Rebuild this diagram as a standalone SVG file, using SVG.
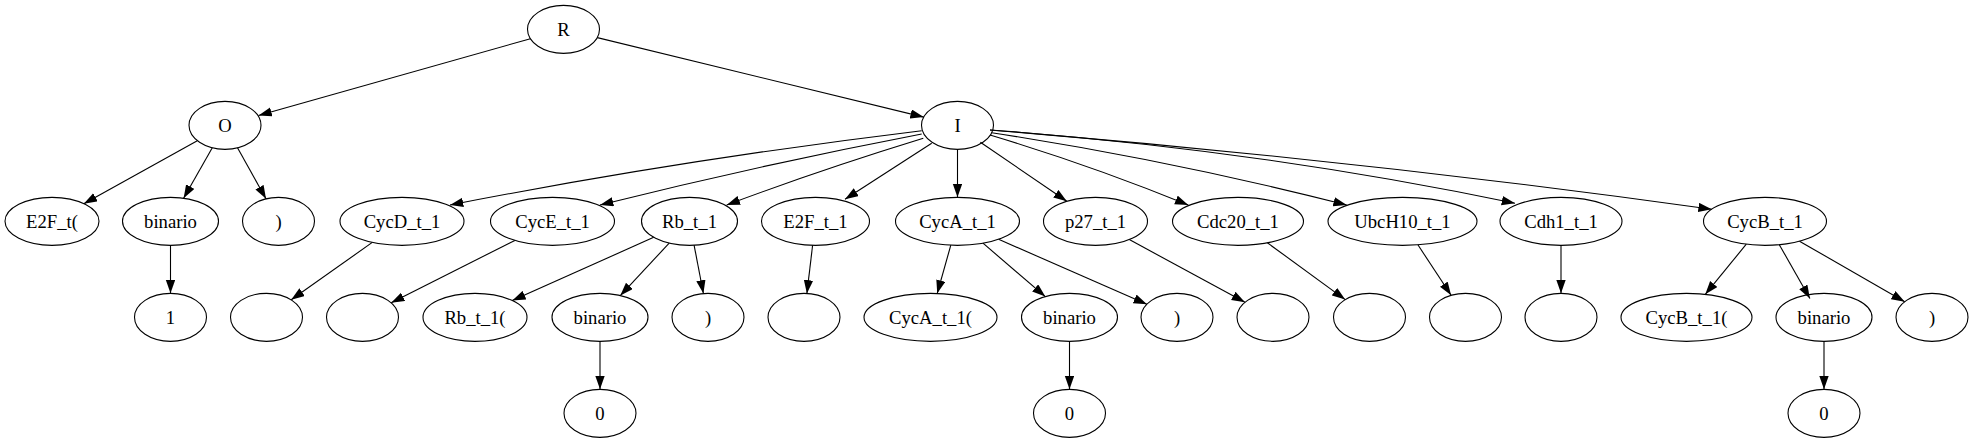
<svg xmlns="http://www.w3.org/2000/svg" width="1973" height="443" viewBox="0 0 1973 443">
<style>
.n ellipse{fill:none;stroke:#000;stroke-width:1.1}
.n text{font-family:'Liberation Serif','Times New Roman',serif;font-size:18.67px;text-anchor:middle;fill:#000}
#edges path{fill:none;stroke:#000;stroke-width:1.1;marker-end:url(#ah)}
</style>
<defs>
<marker id="ah" markerWidth="14" markerHeight="10" refX="13.33" refY="4.67" orient="auto" markerUnits="userSpaceOnUse"><path d="M0,0 L13.33,4.67 L0,9.33 z" fill="#000"/></marker>
</defs>
<rect width="1973" height="443" fill="#fff"/>
<g id="edges">
<path d="M530.4,38.7 L258.5,115.5"/>
<path d="M597.3,37.6 L923.7,117.1"/>
<path d="M197.3,140.7 L83.8,203.7"/>
<path d="M212.3,147.8 L183.6,198.2"/>
<path d="M237.5,147.8 L266.0,198.8"/>
<path d="M170.5,245.33 L170.5,293.33"/>
<path d="M921.7,130.7 Q680,160 450,205"/>
<path d="M921.7,134 Q760,165 600,205"/>
<path d="M923.3,138.3 Q820,170 726.7,205"/>
<path d="M931.7,143.3 L845,199.3"/>
<path d="M957.5,149.33 L957.5,197.33"/>
<path d="M980.4,142.2 L1066.8,201.3"/>
<path d="M990,135 Q1090,165 1188.3,205"/>
<path d="M991.7,132.7 Q1170,160 1346.7,205"/>
<path d="M990,130 Q1260,150 1515,203.3"/>
<path d="M990,130 Q1360,160 1711.7,209.3"/>
<path d="M372.3,242.4 L291.2,299.8"/>
<path d="M514.8,240.4 L391.2,302.8"/>
<path d="M653.7,237.3 L512.3,300.6"/>
<path d="M669.2,243.1 L620.3,295.6"/>
<path d="M694.1,245.2 L703.4,293.5"/>
<path d="M600,341.33 L600,389.33"/>
<path d="M812.6,245.3 L806.9,293.4"/>
<path d="M950.8,245.2 L937.2,293.5"/>
<path d="M983.0,243.2 L1045.3,296.6"/>
<path d="M998.6,239.3 L1146.9,304.2"/>
<path d="M1069.5,341.33 L1069.5,389.33"/>
<path d="M1129.3,239.6 L1245.0,302.2"/>
<path d="M1267.4,242.8 L1345.2,299.6"/>
<path d="M1417.9,244.8 L1451.1,295.3"/>
<path d="M1561,245.33 L1561,293.33"/>
<path d="M1746.3,244.2 L1705.3,294.3"/>
<path d="M1779.3,244.7 L1809.9,298.4"/>
<path d="M1799.5,241.2 L1904.7,301.7"/>
<path d="M1824,341.33 L1824,389.33"/>
</g>
<g id="R" class="n"><ellipse cx="563.5" cy="29.33" rx="36" ry="24"/><text x="563.5" y="35.5">R</text></g>
<g id="O" class="n"><ellipse cx="225" cy="125.33" rx="36" ry="24"/><text x="225" y="131.5">O</text></g>
<g id="I" class="n"><ellipse cx="957.5" cy="125.33" rx="36" ry="24"/><text x="957.5" y="131.5">I</text></g>
<g id="E2F_t_open" class="n"><ellipse cx="52" cy="221.33" rx="47" ry="24"/><text x="52" y="227.5">E2F_t(</text></g>
<g id="binario_O" class="n"><ellipse cx="170.5" cy="221.33" rx="48" ry="24"/><text x="170.5" y="227.5">binario</text></g>
<g id="close_O" class="n"><ellipse cx="278.5" cy="221.33" rx="36" ry="24"/><text x="278.5" y="227.5">)</text></g>
<g id="CycD_t_1" class="n"><ellipse cx="402" cy="221.33" rx="62" ry="24"/><text x="402" y="227.5">CycD_t_1</text></g>
<g id="CycE_t_1" class="n"><ellipse cx="552.5" cy="221.33" rx="62" ry="24"/><text x="552.5" y="227.5">CycE_t_1</text></g>
<g id="Rb_t_1" class="n"><ellipse cx="689.5" cy="221.33" rx="48" ry="24"/><text x="689.5" y="227.5">Rb_t_1</text></g>
<g id="E2F_t_1" class="n"><ellipse cx="815.5" cy="221.33" rx="54" ry="24"/><text x="815.5" y="227.5">E2F_t_1</text></g>
<g id="CycA_t_1" class="n"><ellipse cx="957.5" cy="221.33" rx="62" ry="24"/><text x="957.5" y="227.5">CycA_t_1</text></g>
<g id="p27_t_1" class="n"><ellipse cx="1095.5" cy="221.33" rx="52" ry="24"/><text x="1095.5" y="227.5">p27_t_1</text></g>
<g id="Cdc20_t_1" class="n"><ellipse cx="1238" cy="221.33" rx="65.5" ry="24"/><text x="1238" y="227.5">Cdc20_t_1</text></g>
<g id="UbcH10_t_1" class="n"><ellipse cx="1402.5" cy="221.33" rx="74.5" ry="24"/><text x="1402.5" y="227.5">UbcH10_t_1</text></g>
<g id="Cdh1_t_1" class="n"><ellipse cx="1561" cy="221.33" rx="61" ry="24"/><text x="1561" y="227.5">Cdh1_t_1</text></g>
<g id="CycB_t_1" class="n"><ellipse cx="1765" cy="221.33" rx="61.5" ry="24"/><text x="1765" y="227.5">CycB_t_1</text></g>
<g id="one_O" class="n"><ellipse cx="170.5" cy="317.33" rx="36" ry="24"/><text x="170.5" y="323.5">1</text></g>
<g id="empty_CycD" class="n"><ellipse cx="266.5" cy="317.33" rx="36" ry="24"/></g>
<g id="empty_CycE" class="n"><ellipse cx="362.5" cy="317.33" rx="36" ry="24"/></g>
<g id="Rb_t_1_open" class="n"><ellipse cx="475" cy="317.33" rx="52" ry="24"/><text x="475" y="323.5">Rb_t_1(</text></g>
<g id="binario_Rb" class="n"><ellipse cx="600" cy="317.33" rx="48" ry="24"/><text x="600" y="323.5">binario</text></g>
<g id="close_Rb" class="n"><ellipse cx="708" cy="317.33" rx="36" ry="24"/><text x="708" y="323.5">)</text></g>
<g id="empty_E2F" class="n"><ellipse cx="804" cy="317.33" rx="36" ry="24"/></g>
<g id="CycA_t_1_open" class="n"><ellipse cx="930.5" cy="317.33" rx="66.5" ry="24"/><text x="930.5" y="323.5">CycA_t_1(</text></g>
<g id="binario_A" class="n"><ellipse cx="1069.5" cy="317.33" rx="48" ry="24"/><text x="1069.5" y="323.5">binario</text></g>
<g id="close_A" class="n"><ellipse cx="1177" cy="317.33" rx="36" ry="24"/><text x="1177" y="323.5">)</text></g>
<g id="empty_p27" class="n"><ellipse cx="1273" cy="317.33" rx="36" ry="24"/></g>
<g id="empty_Cdc20" class="n"><ellipse cx="1369.5" cy="317.33" rx="36" ry="24"/></g>
<g id="empty_UbcH10" class="n"><ellipse cx="1465.5" cy="317.33" rx="36" ry="24"/></g>
<g id="empty_Cdh1" class="n"><ellipse cx="1561" cy="317.33" rx="36" ry="24"/></g>
<g id="CycB_t_1_open" class="n"><ellipse cx="1686.5" cy="317.33" rx="65.5" ry="24"/><text x="1686.5" y="323.5">CycB_t_1(</text></g>
<g id="binario_B" class="n"><ellipse cx="1824" cy="317.33" rx="48" ry="24"/><text x="1824" y="323.5">binario</text></g>
<g id="close_B" class="n"><ellipse cx="1932" cy="317.33" rx="36" ry="24"/><text x="1932" y="323.5">)</text></g>
<g id="zero_Rb" class="n"><ellipse cx="600" cy="413.33" rx="36" ry="24"/><text x="600" y="419.5">0</text></g>
<g id="zero_A" class="n"><ellipse cx="1069.5" cy="413.33" rx="36" ry="24"/><text x="1069.5" y="419.5">0</text></g>
<g id="zero_B" class="n"><ellipse cx="1824" cy="413.33" rx="36" ry="24"/><text x="1824" y="419.5">0</text></g>
</svg>
